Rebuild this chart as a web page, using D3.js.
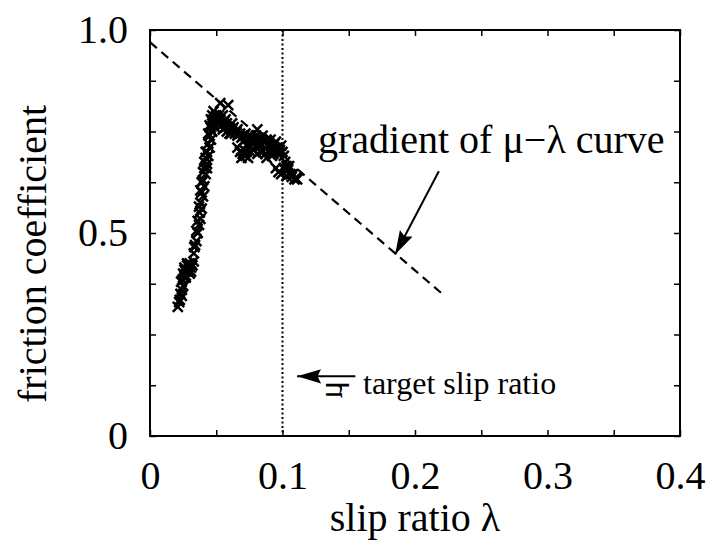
<!DOCTYPE html>
<html>
<head>
<meta charset="utf-8">
<script src="https://cdn.jsdelivr.net/npm/d3@7"></script>
<style>
  body { margin: 0; background: #fff; }
  text { font-family: "Liberation Serif", "Times New Roman", serif; fill: #000; }
</style>
</head>
<body>
<script>
// measured slip ratio / friction coefficient samples
var slipRatio = [0.021,0.0225,0.023,0.024,0.025,0.0235,0.026,0.025,0.027,0.029,0.031,0.028,0.032,0.026,0.030,
	0.033,0.0335,0.035,0.036,0.037,0.038,0.0375,0.039,0.038,0.040,0.039,0.041,0.040,0.042,0.041,
	0.043,0.042,0.044,0.043,0.045,0.044,0.046,0.045,0.047,0.046,0.048,0.047,0.049,0.050,0.051,
	0.053,0.059,0.052,0.054,0.056,0.055,0.057,0.058,0.060,0.062,0.061,0.063,0.065,0.066,0.068,
	0.069,0.071,0.073,0.075,0.077,0.079,0.081,0.082,0.084,0.086,0.088,0.090,0.092,0.094,0.096,
	0.098,0.100,0.101,0.102,0.103,0.104,0.106,0.107,0.109,0.110,
	0.068,0.070,0.072,0.074,0.076,0.078,0.080,0.083,0.085,0.087,0.090,0.093,0.095,0.097,0.099,
	0.022,0.024,0.0245,0.027,0.029,0.030,0.031,0.034,0.035,0.036,0.037,0.038,0.039,0.040,0.041,
	0.043,0.042,0.044,0.045,0.046,0.047,0.048,0.049,0.050,0.052,0.053,0.055,0.057,0.058,0.060,
	0.062,0.064,0.066,0.070,0.072,0.074,0.076,0.078,0.080,0.083,0.085,0.087,0.089,0.091,0.093,
	0.095,0.097,0.099,0.101,0.103,0.105,0.108,0.066,0.069,0.071,0.073,0.081,0.088,0.092,0.111,
	0.026,0.028,0.030,0.033,0.027];
var friction = [0.318,0.335,0.35,0.36,0.37,0.38,0.39,0.40,0.405,0.41,0.415,0.42,0.42,0.41,0.40,
	0.45,0.465,0.48,0.50,0.52,0.535,0.55,0.56,0.575,0.59,0.60,0.615,0.63,0.645,0.66,
	0.67,0.685,0.69,0.70,0.71,0.72,0.73,0.74,0.75,0.76,0.765,0.775,0.78,0.79,0.775,
	0.82,0.815,0.77,0.765,0.775,0.755,0.76,0.77,0.76,0.755,0.745,0.76,0.75,0.74,0.745,
	0.735,0.74,0.735,0.73,0.725,0.73,0.755,0.735,0.73,0.725,0.73,0.72,0.715,0.72,0.71,
	0.705,0.70,0.69,0.675,0.665,0.655,0.645,0.638,0.632,0.635,
	0.70,0.695,0.69,0.685,0.70,0.705,0.71,0.712,0.70,0.695,0.70,0.695,0.66,0.65,0.645,
	0.33,0.345,0.385,0.395,0.42,0.425,0.405,0.47,0.505,0.53,0.565,0.605,0.625,0.65,0.675,
	0.66,0.70,0.745,0.765,0.78,0.79,0.80,0.76,0.775,0.79,0.78,0.79,0.78,0.75,0.745,
	0.77,0.745,0.755,0.725,0.745,0.72,0.74,0.72,0.74,0.72,0.74,0.71,0.715,0.73,0.705,
	0.725,0.695,0.715,0.66,0.64,0.665,0.645,0.71,0.685,0.705,0.70,0.695,0.685,0.69,0.632,
	0.415,0.425,0.42,0.43,0.39];

var xTicks = [0,0.05,0.1,0.15,0.2,0.25,0.3,0.35,0.4];
var xLabels = ["0","0.1","0.2","0.3","0.4"];
var yTicks = [0,0.125,0.25,0.375,0.5,0.625,0.75,0.875,1.0];
var yLabels = ["0","0.5","1.0"];

var gradientLine = [[0,0.97],[0.222,0.346]];
var gradientArrow = [[0.218,0.652],[0.185,0.447]];
var targetSlip = 0.1;
var targetArrow = [[0.155,0.147],[0.111,0.147]];

var W = 707, H = 545;
var x = d3.scaleLinear().domain([0,0.4]).range([150,680]);
var y = d3.scaleLinear().domain([0,1]).range([436,30]);

var svg = d3.select("body").append("svg")
	.attr("width",W)
	.attr("height",H);

var defs = svg.append("defs");
defs.append("marker")
	.attr("id","head")
	.attr("viewBox","0 0 10 10")
	.attr("refX",10).attr("refY",5)
	.attr("markerWidth",12).attr("markerHeight",12)
	.attr("markerUnits","strokeWidth")
	.attr("orient","auto")
	.append("path")
	.attr("d","M0,2L10,5L0,8L1.5,5Z")
	.attr("fill","#000");

var fs = 40;

// ticks on all four sides, pointing inward
function tickAxis(axis, transform){
	var g = svg.append("g").attr("transform",transform).call(axis);
	g.select(".domain").remove();
	g.selectAll("line").attr("stroke","#000").attr("stroke-width",1.5);
	return g;
}
tickAxis(d3.axisBottom(x).tickValues(xTicks).tickSize(-6).tickFormat(""), "translate(0,436)");
tickAxis(d3.axisTop(x).tickValues(xTicks).tickSize(-6).tickFormat(""), "translate(0,30)");
tickAxis(d3.axisLeft(y).tickValues(yTicks).tickSize(-6).tickFormat(""), "translate(150,0)");
tickAxis(d3.axisRight(y).tickValues(yTicks).tickSize(-6).tickFormat(""), "translate(680,0)");

// labels
var xl = svg.append("g").attr("transform","translate(0,436)")
	.call(d3.axisBottom(x).tickValues(xLabels.map(Number)).tickSize(0).tickPadding(25)
		.tickFormat(function(d,i){ return xLabels[i]; }));
xl.select(".domain").remove();
xl.selectAll("text").attr("font-size",fs);

var yl = svg.append("g").attr("transform","translate(150,0)")
	.call(d3.axisLeft(y).tickValues(yLabels.map(Number)).tickSize(0).tickPadding(22)
		.tickFormat(function(d,i){ return yLabels[i]; }));
yl.select(".domain").remove();
yl.selectAll("text").attr("font-size",fs);

svg.append("rect")
	.attr("x",150).attr("y",30)
	.attr("width",530).attr("height",406)
	.attr("fill","none")
	.attr("stroke","#000")
	.attr("stroke-width",2);

// target slip ratio
svg.append("line")
	.attr("x1",x(targetSlip)).attr("x2",x(targetSlip))
	.attr("y1",y(1)).attr("y2",y(0))
	.attr("stroke","#000")
	.attr("stroke-width",2)
	.attr("stroke-dasharray","2,2.5");

// gradient of the mu-lambda curve
svg.append("line")
	.attr("x1",x(gradientLine[0][0])).attr("y1",y(gradientLine[0][1]))
	.attr("x2",x(gradientLine[1][0])).attr("y2",y(gradientLine[1][1]))
	.attr("stroke","#000")
	.attr("stroke-width",2.2)
	.attr("stroke-dasharray","9,6");

// data points
svg.append("g").selectAll("path")
	.data(slipRatio)
	.enter().append("path")
	.attr("d",function(d,i){
		var cx = x(d), cy = y(friction[i]), r = 5;
		return "M"+(cx-r)+","+(cy-r)+"L"+(cx+r)+","+(cy+r)+"M"+(cx-r)+","+(cy+r)+"L"+(cx+r)+","+(cy-r);
	})
	.attr("stroke","#000")
	.attr("stroke-width",2.5)
	.attr("fill","none");

// annotations
svg.append("line")
	.attr("x1",x(gradientArrow[0][0])).attr("y1",y(gradientArrow[0][1]))
	.attr("x2",x(gradientArrow[1][0])).attr("y2",y(gradientArrow[1][1]))
	.attr("stroke","#000")
	.attr("stroke-width",2)
	.attr("marker-end","url(#head)");

svg.append("text")
	.attr("x",318).attr("y",153)
	.attr("font-size",fs)
	.text("gradient of \u03bc\u2212\u03bb curve");

svg.append("line")
	.attr("x1",x(targetArrow[0][0])).attr("y1",y(targetArrow[0][1]))
	.attr("x2",x(targetArrow[1][0])).attr("y2",y(targetArrow[1][1]))
	.attr("stroke","#000")
	.attr("stroke-width",2)
	.attr("marker-end","url(#head)");

// sideways mu glyph under the arrow
svg.append("text")
	.attr("transform","translate(345,390) scale(1,-1) rotate(-90)")
	.attr("text-anchor","middle")
	.attr("dy","-0.1em")
	.attr("font-size",34)
	.text("\u03bc");

svg.append("text")
	.attr("x",363).attr("y",394)
	.attr("font-size",32)
	.text("target slip ratio");

// axis titles
svg.append("text")
	.attr("x",415).attr("y",531)
	.attr("text-anchor","middle")
	.attr("font-size",fs)
	.text("slip ratio \u03bb");

svg.append("text")
	.attr("transform","translate(46,254) rotate(-90)")
	.attr("text-anchor","middle")
	.attr("font-size",fs)
	.text("friction coefficient");
</script>
</body>
</html>
